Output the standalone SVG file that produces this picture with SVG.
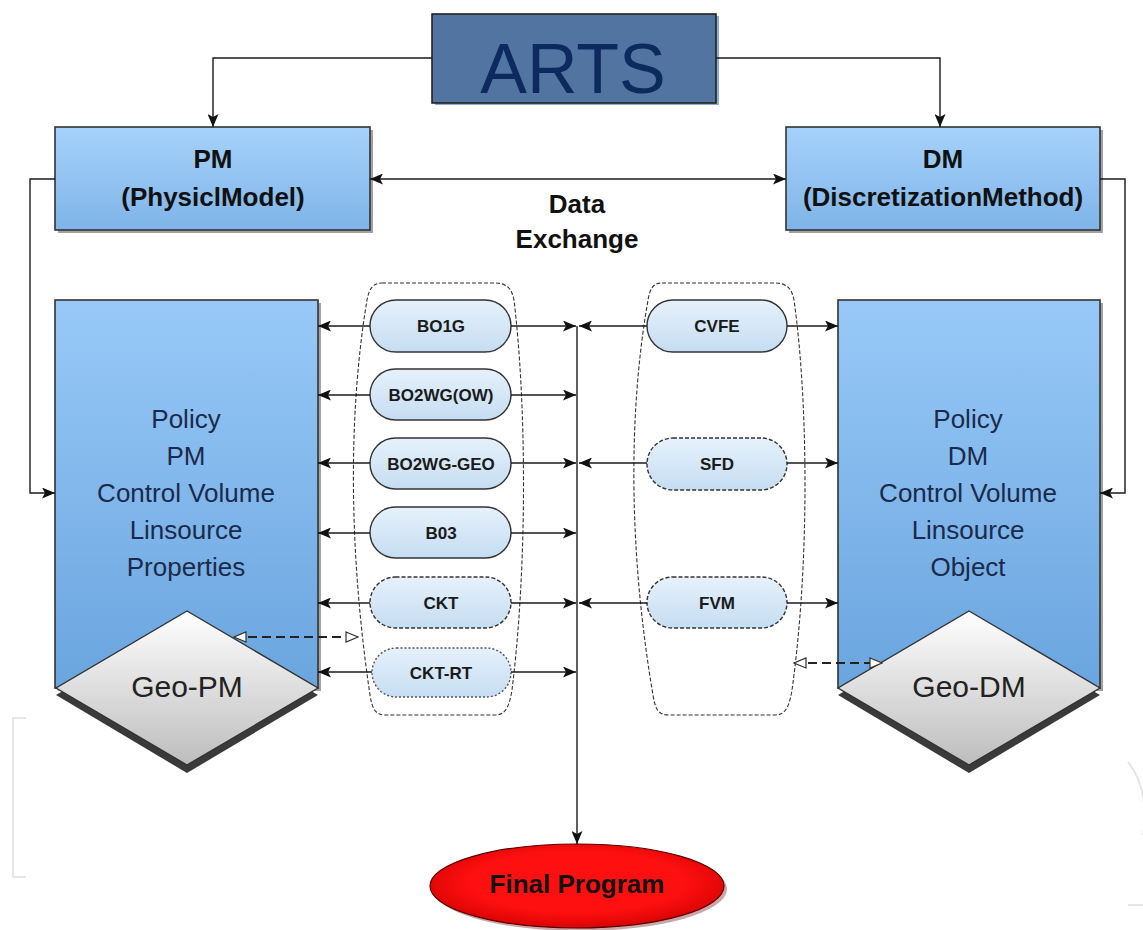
<svg xmlns="http://www.w3.org/2000/svg" width="1143" height="930" viewBox="0 0 1143 930">
<defs>
  <linearGradient id="gBox" x1="0" y1="0" x2="0" y2="1">
    <stop offset="0" stop-color="#a6d2fa"/>
    <stop offset="1" stop-color="#7fb4e8"/>
  </linearGradient>
  <linearGradient id="gBig" x1="0" y1="0" x2="0" y2="1">
    <stop offset="0" stop-color="#98c9f8"/>
    <stop offset="1" stop-color="#6aa5de"/>
  </linearGradient>
  <linearGradient id="gPill" x1="0" y1="0" x2="0" y2="1">
    <stop offset="0" stop-color="#e6f1fb"/>
    <stop offset="1" stop-color="#c5ddf2"/>
  </linearGradient>
  <linearGradient id="gDia" x1="0" y1="0" x2="0" y2="1">
    <stop offset="0" stop-color="#ffffff"/>
    <stop offset="1" stop-color="#bdbdbd"/>
  </linearGradient>
  <radialGradient id="gRed" cx="0.5" cy="0.45" r="0.6">
    <stop offset="0.6" stop-color="#ff1010"/>
    <stop offset="1" stop-color="#d00000"/>
  </radialGradient>
  <marker id="ah" viewBox="0 0 13 11" refX="13" refY="5.5" markerWidth="13" markerHeight="11" markerUnits="userSpaceOnUse" orient="auto-start-reverse">
    <path d="M0,0 L13,5.5 L0,11 L3,5.5 z" fill="#111"/>
  </marker>
  <marker id="ao" viewBox="0 0 14 12" refX="13" refY="6" markerWidth="14" markerHeight="12" markerUnits="userSpaceOnUse" orient="auto-start-reverse">
    <path d="M1,1 L13,6 L1,11 z" fill="#fff" stroke="#333" stroke-width="1.2"/>
  </marker>
</defs>
<style>
  .ln { fill: none; stroke: #1a1a1a; stroke-width: 1.4; }
  .dl { fill: none; stroke: #222; stroke-width: 1.8; stroke-dasharray: 9 5; }
  .box { fill: url(#gBox); stroke: #333; stroke-width: 1.6; }
  .big { fill: url(#gBig); stroke: #333; stroke-width: 1.6; }
  .pill { fill: url(#gPill); stroke: #333; stroke-width: 1.4; }
  .pdash { stroke-dasharray: 4 2; }
  .pdot { stroke-dasharray: 2 2; stroke: #555; }
  .grp { fill: none; stroke: #333; stroke-width: 1.1; stroke-dasharray: 4 2; }
  .sh { fill: #555; opacity: 0.55; }
  .ttl { font-family: "Liberation Sans", Arial, sans-serif; font-weight: bold; font-size: 26px; fill: #111; text-anchor: middle; }
  .bt { font-family: "Liberation Sans", Arial, sans-serif; font-size: 26px; fill: #1b2a4a; text-anchor: middle; }
  .pt { font-family: "Liberation Sans", Arial, sans-serif; font-weight: bold; font-size: 17px; fill: #1a1a1a; text-anchor: middle; }
  .geo { font-family: "Liberation Sans", Arial, sans-serif; font-size: 30px; fill: #222; text-anchor: middle; }
  .wm { fill: none; stroke: #e6e6e6; stroke-width: 2; }
</style>

<!-- faint background marks -->
<path class="wm" d="M26,718 L13,718 L13,877 L26,877"/>
<path class="wm" d="M1128,762 Q1150,790 1143,835 M1128,905 L1143,905"/>

<g id="arts">
  <rect x="435" y="16" width="284" height="89" fill="#8eaed0"/>
  <rect x="432" y="14" width="284" height="89" fill="#5274a0" stroke="#222" stroke-width="1.6"/>
  <text x="573" y="93" font-family="Liberation Sans, Arial, sans-serif" font-size="70" fill="#0d2a5e" text-anchor="middle">ARTS</text>
</g>

<g id="pm">
  <rect class="sh" x="58" y="130" width="315" height="103"/>
  <rect class="box" x="55" y="127" width="315" height="103"/>
  <text class="ttl" x="213" y="168">PM</text>
  <text class="ttl" x="213" y="206">(PhysiclModel)</text>
</g>

<g id="dm">
  <rect class="sh" x="789" y="130" width="314" height="103"/>
  <rect class="box" x="786" y="127" width="314" height="103"/>
  <text class="ttl" x="943" y="168">DM</text>
  <text class="ttl" x="943" y="206">(DiscretizationMethod)</text>
</g>

<g id="data-exchange">
  <text class="ttl" x="577" y="213" font-size="24">Data</text>
  <text class="ttl" x="577" y="248" font-size="24">Exchange</text>
</g>

<g id="pm-policy">
  <rect class="sh" x="58" y="303" width="263" height="388"/>
  <rect class="big" x="55" y="300" width="263" height="388"/>
  <text class="bt" x="186" y="428">Policy</text>
  <text class="bt" x="186" y="465">PM</text>
  <text class="bt" x="186" y="502">Control Volume</text>
  <text class="bt" x="186" y="539">Linsource</text>
  <text class="bt" x="186" y="576">Properties</text>
</g>

<g id="geo-pm">
  <polygon points="187,618 318,695 187,773 56,695" fill="#3a3a3a"/>
  <polygon points="187,611 318,688 187,765 56,688" fill="url(#gDia)" stroke="#333" stroke-width="1.4"/>
  <text class="geo" x="187" y="697">Geo-PM</text>
</g>

<g id="dm-policy">
  <rect class="sh" x="841" y="303" width="262" height="388"/>
  <rect class="big" x="838" y="300" width="262" height="388"/>
  <text class="bt" x="968" y="428">Policy</text>
  <text class="bt" x="968" y="465">DM</text>
  <text class="bt" x="968" y="502">Control Volume</text>
  <text class="bt" x="968" y="539">Linsource</text>
  <text class="bt" x="968" y="576">Object</text>
</g>

<g id="geo-dm">
  <polygon points="969,618 1100,695 969,773 838,695" fill="#3a3a3a"/>
  <polygon points="969,611 1100,688 969,765 838,688" fill="url(#gDia)" stroke="#333" stroke-width="1.4"/>
  <text class="geo" x="969" y="697">Geo-DM</text>
</g>

<g id="left-group">
  <path class="grp" d="M382,283 L495,283 C508,283 512,290 514,300 C526,400 528,560 512,690 C509,708 505,715 495,715 L385,715 C375,715 372,708 370,695 C350,560 347,420 367,300 C369,290 372,283 382,283 Z"/>
</g>
<g id="right-group">
  <path class="grp" d="M662,283 L775,283 C788,283 792,290 794,300 C808,400 810,560 792,690 C789,708 785,715 775,715 L668,715 C658,715 655,708 653,695 C630,560 627,420 648,300 C650,290 652,283 662,283 Z"/>
</g>

<g id="bo1g">
  <rect class="pill" x="370" y="300" width="141" height="52" rx="26"/>
  <text class="pt" x="441" y="332">BO1G</text>
</g>
<g id="bo2wg-ow">
  <rect class="pill" x="370" y="369" width="141" height="51" rx="25.5"/>
  <text class="pt" x="441" y="401">BO2WG(OW)</text>
</g>
<g id="bo2wg-geo">
  <rect class="pill" x="370" y="438" width="141" height="51" rx="25.5"/>
  <text class="pt" x="441" y="470">BO2WG-GEO</text>
</g>
<g id="b03">
  <rect class="pill" x="370" y="507" width="141" height="51" rx="25.5"/>
  <text class="pt" x="441" y="539">B03</text>
</g>
<g id="ckt">
  <rect class="pill pdash" x="370" y="577" width="141" height="51" rx="25.5"/>
  <text class="pt" x="441" y="609">CKT</text>
</g>
<g id="ckt-rt">
  <rect class="pill pdot" x="372" y="648" width="139" height="49" rx="24.5"/>
  <text class="pt" x="441" y="679">CKT-RT</text>
</g>

<g id="cvfe">
  <rect class="pill" x="647" y="300" width="140" height="52" rx="26"/>
  <text class="pt" x="717" y="332">CVFE</text>
</g>
<g id="sfd">
  <rect class="pill pdash" x="647" y="438" width="140" height="52" rx="26"/>
  <text class="pt" x="717" y="470">SFD</text>
</g>
<g id="fvm">
  <rect class="pill pdash" x="647" y="577" width="140" height="51" rx="25.5"/>
  <text class="pt" x="717" y="609">FVM</text>
</g>

<g id="final-program">
  <ellipse cx="580" cy="889" rx="147" ry="42" fill="#6a0000" opacity="0.35"/>
  <ellipse cx="577" cy="886" rx="147" ry="42" fill="url(#gRed)" stroke="#5a0000" stroke-width="1.2"/>
  <text class="ttl" x="577" y="893" font-size="21" fill="#3a0505">Final Program</text>
</g>

<g id="connectors">
  <path class="ln" d="M432,58 L213,58 L213,127" marker-end="url(#ah)"/>
  <path class="ln" d="M716,58 L940,58 L940,127" marker-end="url(#ah)"/>
  <path class="ln" d="M370,179 L786,179" marker-start="url(#ah)" marker-end="url(#ah)"/>
  <path class="ln" d="M55,179 L30,179 L30,493 L55,493" marker-end="url(#ah)"/>
  <path class="ln" d="M1100,179 L1125,179 L1125,493 L1100,493" marker-end="url(#ah)"/>
  <path class="ln" d="M577,326 L577,844" marker-end="url(#ah)"/>
  <path class="ln" d="M370,326 L318,326" marker-end="url(#ah)"/>
  <path class="ln" d="M370,395 L318,395" marker-end="url(#ah)"/>
  <path class="ln" d="M370,463 L318,463" marker-end="url(#ah)"/>
  <path class="ln" d="M370,533 L318,533" marker-end="url(#ah)"/>
  <path class="ln" d="M370,603 L318,603" marker-end="url(#ah)"/>
  <path class="ln" d="M372,672 L318,672" marker-end="url(#ah)"/>
  <path class="ln" d="M511,326 L576,326" marker-end="url(#ah)"/>
  <path class="ln" d="M511,395 L576,395" marker-end="url(#ah)"/>
  <path class="ln" d="M511,463 L576,463" marker-end="url(#ah)"/>
  <path class="ln" d="M511,533 L576,533" marker-end="url(#ah)"/>
  <path class="ln" d="M511,603 L576,603" marker-end="url(#ah)"/>
  <path class="ln" d="M511,672 L576,672" marker-end="url(#ah)"/>
  <path class="ln" d="M647,326 L579,326" marker-end="url(#ah)"/>
  <path class="ln" d="M647,463 L579,463" marker-end="url(#ah)"/>
  <path class="ln" d="M647,603 L579,603" marker-end="url(#ah)"/>
  <path class="ln" d="M787,326 L838,326" marker-end="url(#ah)"/>
  <path class="ln" d="M787,463 L838,463" marker-end="url(#ah)"/>
  <path class="ln" d="M787,603 L838,603" marker-end="url(#ah)"/>
  <path class="dl" d="M234,637 L358,637" marker-start="url(#ao)" marker-end="url(#ao)"/>
  <path class="dl" d="M794,663 L882,663" marker-start="url(#ao)" marker-end="url(#ao)"/>
</g>
</svg>
